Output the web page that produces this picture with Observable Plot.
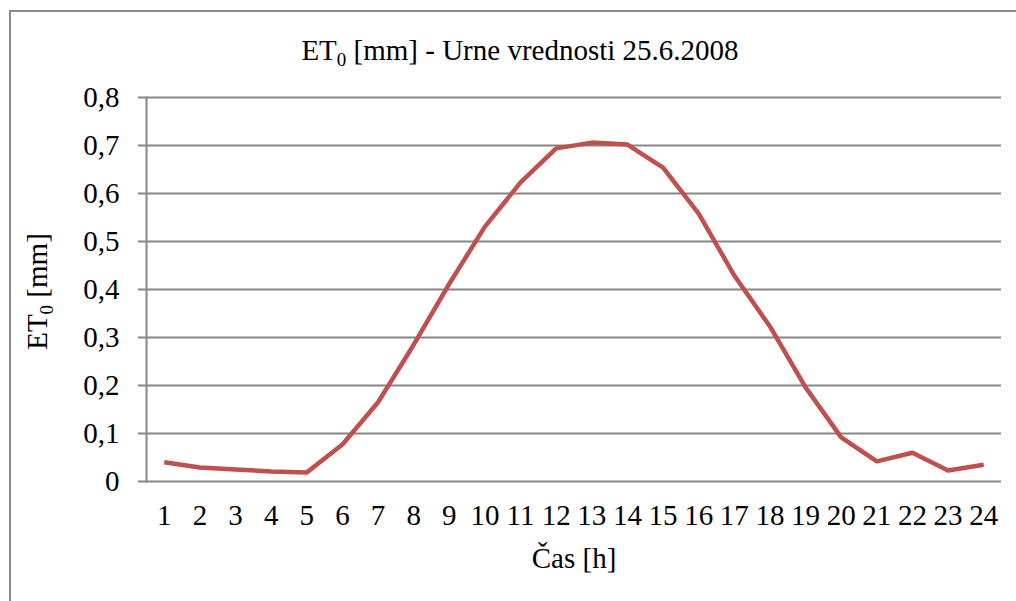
<!DOCTYPE html>
<html>
<head>
<meta charset="utf-8">
<script src="https://cdn.jsdelivr.net/npm/d3@7"></script>
<script src="https://cdn.jsdelivr.net/npm/@observablehq/plot@0.6"></script>
<style>
  html, body { margin: 0; padding: 0; background: #fff; overflow: hidden; }
  #wrap { position: relative; width: 1016px; height: 601px; overflow: hidden; }
  #border { position: absolute; left: 9px; top: 10px; width: 1100px; height: 700px; border: 2px solid #8c8c8c; box-sizing: border-box; }
  #chart { position: absolute; left: 0; top: 0; }
</style>
</head>
<body>
<div id="wrap"><div id="border"></div><div id="chart"></div></div>
<script>
const hours = [1,2,3,4,5,6,7,8,9,10,11,12,13,14,15,16,17,18,19,20,21,22,23,24];
const et0 = [0.040,0.029,0.025,0.021,0.019,0.077,0.165,0.285,0.412,0.531,0.623,0.694,0.706,0.702,0.654,0.558,0.429,0.323,0.196,0.092,0.042,0.060,0.023,0.035];
const yTicks = [0,0.1,0.2,0.3,0.4,0.5,0.6,0.7,0.8];
const titleText = "ET0 [mm] - Urne vrednosti 25.6.2008";
const yLabel = "ET0 [mm]";
const xLabel = "Čas [h]";

const data = hours.map((h, i) => ({h, v: et0[i]}));
const fmt = d => d === 0 ? "0" : d.toFixed(1).replace(".", ",");
const grid = "#868686";
const fs = 29;

const chart = Plot.plot({
  width: 1016,
  height: 601,
  marginLeft: 146,
  marginRight: 15,
  marginTop: 97,
  marginBottom: 120,
  style: {fontFamily: "'Liberation Serif', 'Times New Roman', serif", fontSize: fs + "px", color: "#000", background: "transparent"},
  x: {type: "point", domain: hours, padding: 0.5, round: false, label: null},
  y: {domain: [0, 0.8], label: null},
  marks: [
    Plot.gridY(yTicks, {stroke: grid, strokeOpacity: 1, strokeWidth: 2}),
    Plot.frame({anchor: "left", stroke: grid, strokeOpacity: 1, strokeWidth: 2}),
    Plot.axisY(yTicks, {tickSize: 8, tickPadding: 19, tickFormat: fmt, stroke: grid, strokeWidth: 2, fontSize: fs, label: null}),
    Plot.axisX({tickSize: 0, tickPadding: 23, fontSize: fs, label: null}),
    Plot.line(data, {x: "h", y: "v", stroke: "#c0504d", strokeWidth: 4.5, strokeLinejoin: "round", strokeLinecap: "butt"}),
    Plot.text([titleText], {frameAnchor: "top", dx: -54, dy: -38, lineAnchor: "bottom", textAnchor: "middle", fontSize: fs, fill: "#000"}),
    Plot.text([yLabel], {frameAnchor: "left", dx: -100, dy: 2, rotate: -90, lineAnchor: "bottom", textAnchor: "middle", fontSize: fs, fill: "#000"}),
    Plot.text([xLabel], {frameAnchor: "bottom", dx: 0, dy: 86, lineAnchor: "bottom", textAnchor: "middle", fontSize: fs, fill: "#000"})
  ]
});

// subscript 0 in "ET0"
d3.select(chart).selectAll("text").each(function() {
  const t = this.textContent;
  if (t.startsWith("ET0")) {
    const sel = d3.select(this);
    sel.text("");
    sel.append("tspan").text("ET");
    sel.append("tspan").attr("dy", 6).attr("font-size", 19).text("0");
    sel.append("tspan").attr("dy", -6).text(t.slice(3));
  }
});

document.getElementById("chart").appendChild(chart);
</script>
</body>
</html>
